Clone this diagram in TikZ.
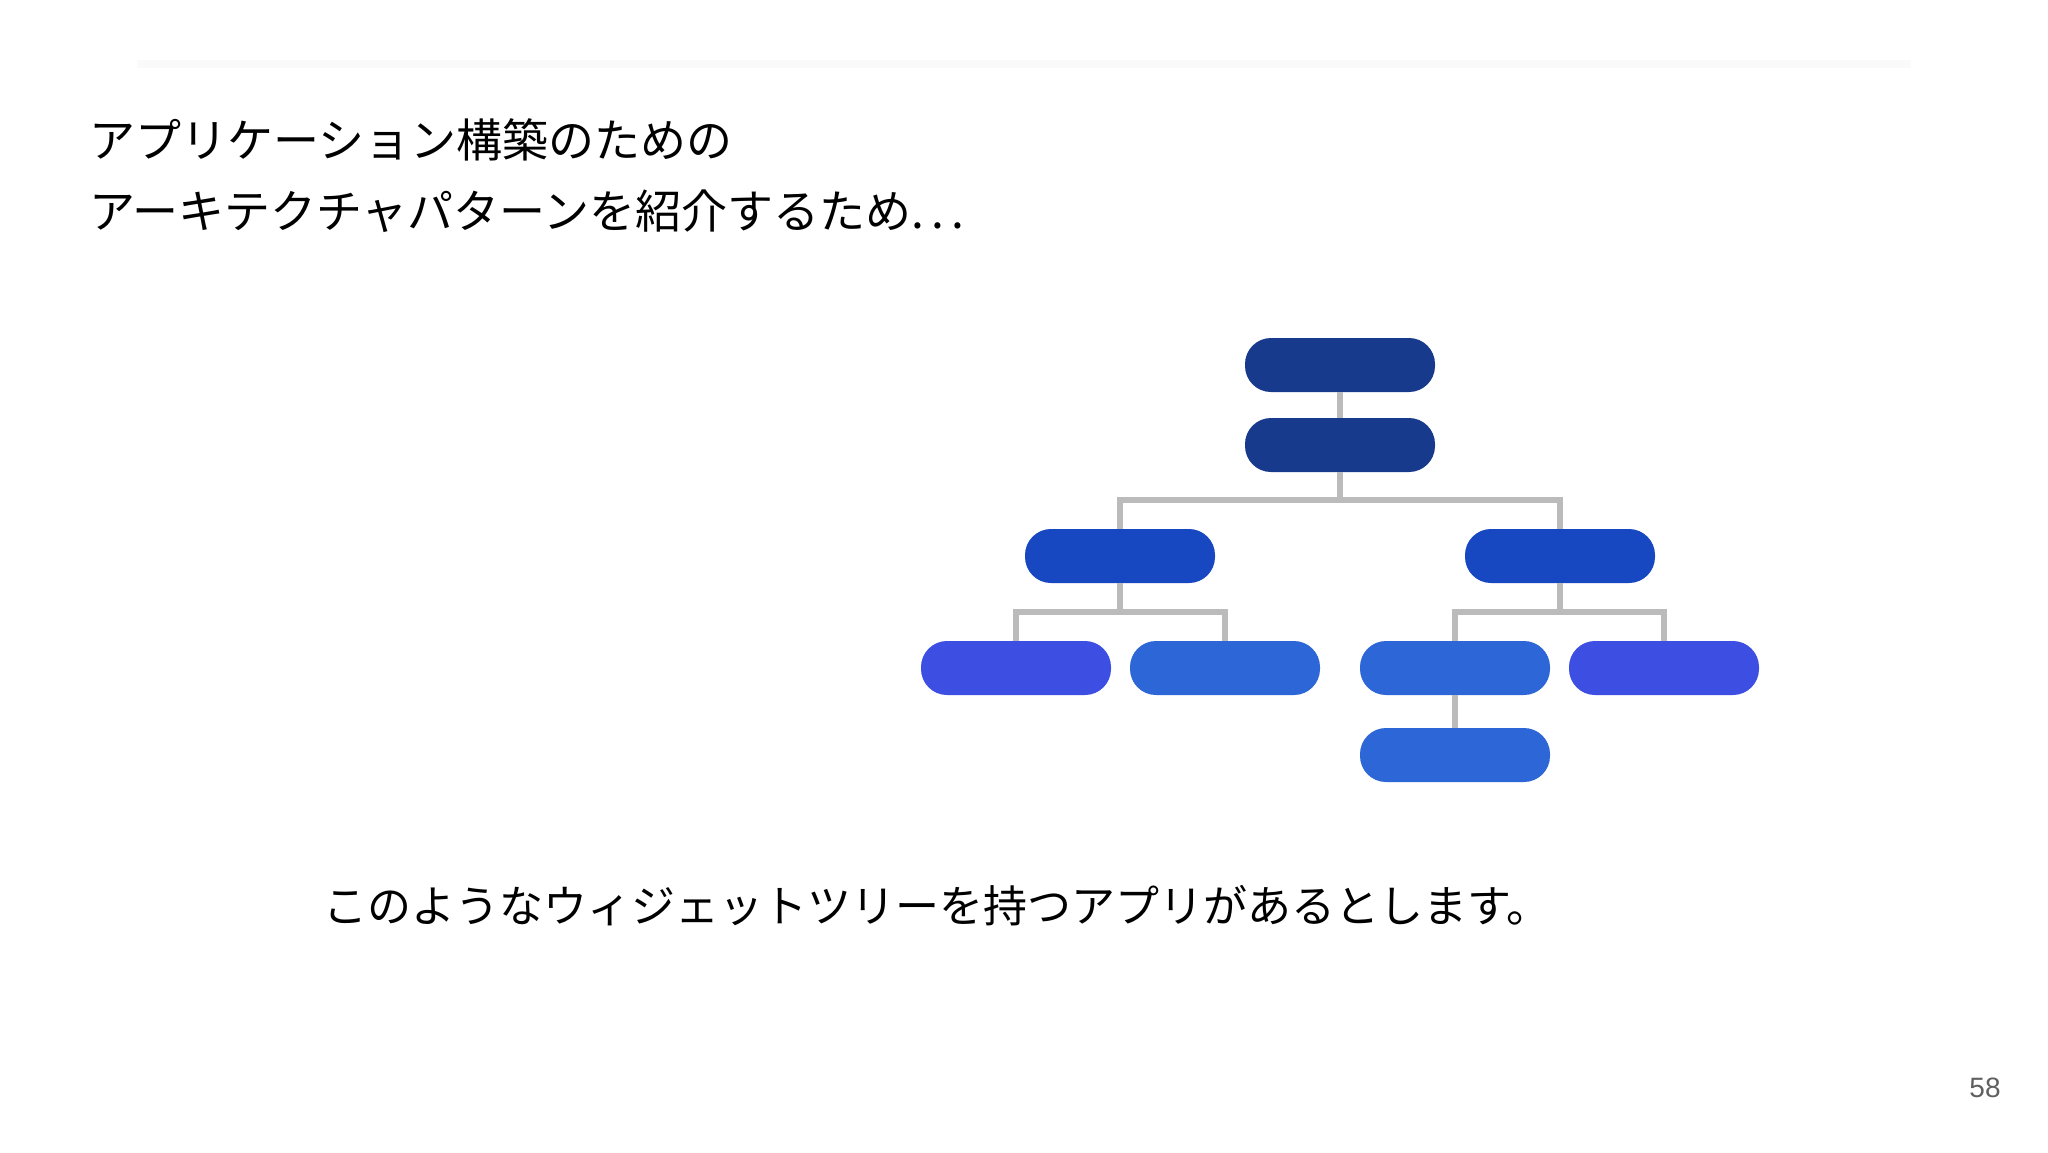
\documentclass[tikz,border=0pt]{standalone}
\usepackage{fontspec}
\setmainfont{Liberation Sans}
\newfontfamily\jp{Noto Sans CJK JP}
\definecolor{navy}{HTML}{173A8C}
\definecolor{midblue}{HTML}{1847C2}
\definecolor{indigo}{HTML}{3C4FE2}
\definecolor{skyblue}{HTML}{2D66D7}
\definecolor{linegray}{HTML}{BBBBBB}
\definecolor{numgray}{HTML}{5F5F5F}
\tikzset{
  pill/.style={draw=none, rectangle, rounded corners=26pt, minimum width=190pt, minimum height=54pt, inner sep=0pt},
  link/.style={draw=linegray, line width=6pt, line join=miter},
  jptext/.style={anchor=west, inner sep=0pt, text=black, align=left},
}
\begin{document}
\begin{tikzpicture}[x=1pt,y=-1pt]
\useasboundingbox (0,0) rectangle (2048,1152);
\fill[white] (0,0) rectangle (2048,1152);
\fill[gray!4] (137,60) rectangle (1911,68);

% texts
\node[jptext, font=\jp\fontsize{46}{56}\selectfont] (t1) at (89,140) {アプリケーション構築のための};
\node[jptext, font=\jp\fontsize{46}{56}\selectfont] (t2) at (89,211) {アーキテクチャパターンを紹介するため.\hspace{7pt}.\hspace{7pt}.};
\node[jptext, font=\jp\fontsize{44}{54}\selectfont] (t3) at (323,906) {このようなウィジェットツリーを持つアプリがあるとします。};
\node[inner sep=0pt, text=numgray, font=\fontsize{28}{32}\selectfont] (pg) at (1985,1088) {58};

% tree nodes
\node[pill, fill=navy] (r1) at (1340,365) {};
\node[pill, fill=navy] (r2) at (1340,445) {};
\node[pill, fill=midblue] (a) at (1120,556) {};
\node[pill, fill=midblue] (b) at (1560,556) {};
\node[pill, fill=indigo] (a1) at (1016,668) {};
\node[pill, fill=skyblue] (a2) at (1225,668) {};
\node[pill, fill=skyblue] (b1) at (1455,668) {};
\node[pill, fill=indigo] (b2) at (1664,668) {};
\node[pill, fill=skyblue] (c1) at (1455,755) {};

\coordinate (bus0) at (1340,500);
\coordinate (busa) at (1120,612);
\coordinate (busb) at (1560,612);

\draw[link] (r1.south) -- (r2.north);
\draw[link] (r2.south) -- (bus0);
\draw[link] (a.north) |- (bus0) -| (b.north);
\draw[link] (a.south) -- (busa);
\draw[link] (a1.north) |- (busa) -| (a2.north);
\draw[link] (b.south) -- (busb);
\draw[link] (b1.north) |- (busb) -| (b2.north);
\draw[link] (b1.south) -- (c1.north);
\end{tikzpicture}
\end{document}
